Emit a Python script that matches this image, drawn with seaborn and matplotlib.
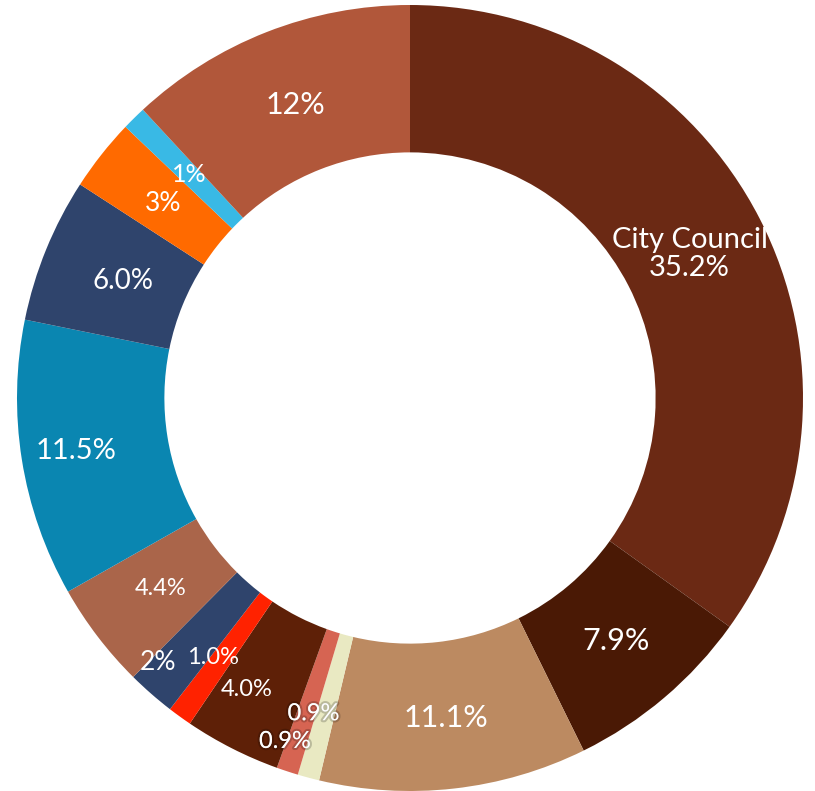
import numpy as np
import matplotlib
matplotlib.use("Agg")
import matplotlib.pyplot as plt
import matplotlib.patheffects as pe
import seaborn as sns

# Data (clockwise from 12 o'clock)
shares = [35.2, 7.9, 11.1, 0.9, 0.9, 4.0, 1.0, 2.0, 4.4, 11.5, 6.0, 3.0, 1.0, 12.0]
labels = ["City Council\n35.2%", "7.9%", "11.1%", "0.9%", "0.9%", "4.0%", "1.0%",
          "2%", "4.4%", "11.5%", "6.0%", "3%", "1%", "12%"]
colors = ["#6B2914", "#4A1905", "#BC8A61", "#E9E9C2", "#D66452", "#5E2007", "#FF2200",
          "#2F446C", "#AA654A", "#0A86B1", "#2F446C", "#FF6A00", "#39B9E5", "#B1573A"]

# label styling: radial position (fraction of outer radius), angle nudge, font size
label_r = [0.80, 0.81, 0.82, 0.84, 0.93, 0.85, 0.83, 0.93, 0.80, 0.86, 0.79, 0.80, 0.80, 0.80]
label_dang = [0, 0, 0, -2.0, -1.8, -2.4, -1.4, -2.4, 0, 0, 0, 0, 0, 0]
label_fs = [21, 22, 22, 17, 17, 17, 17, 19, 17, 21, 20, 19, 18, 22]
shadowed = [False, False, False, True, True, False, False, False, False, False, False, False, False, False]

sns.set_theme(style="white")
plt.rcParams['font.family'] = ['Lato', 'DejaVu Sans']

fig = plt.figure(figsize=(8.15, 7.91), dpi=100)
ax = fig.add_axes([0, 0, 1, 1])

R = 393.0
cx, cy = 410.0, 398.0
wedges, _ = ax.pie(shares, colors=colors, startangle=90, counterclock=False,
                   radius=1.0, wedgeprops=dict(width=0.375, edgecolor="none"))

for w, lab, r, da, fs, sh in zip(wedges, labels, label_r, label_dang, label_fs, shadowed):
    ang = np.deg2rad((w.theta1 + w.theta2) / 2 + da)
    x, y = r * np.cos(ang), r * np.sin(ang)
    effects = [pe.withStroke(linewidth=3, foreground=(0, 0, 0, 0.2))] if sh else None
    ax.text(x, y, lab, ha="center", va="center", color="white", fontsize=fs,
            linespacing=1.1, path_effects=effects)

ax.set_xlim(-cx / R, (815 - cx) / R)
ax.set_ylim(-(791 - cy) / R, cy / R)
ax.set_aspect("equal")
ax.axis("off")

fig.savefig("out.png", dpi=100, facecolor="white")
